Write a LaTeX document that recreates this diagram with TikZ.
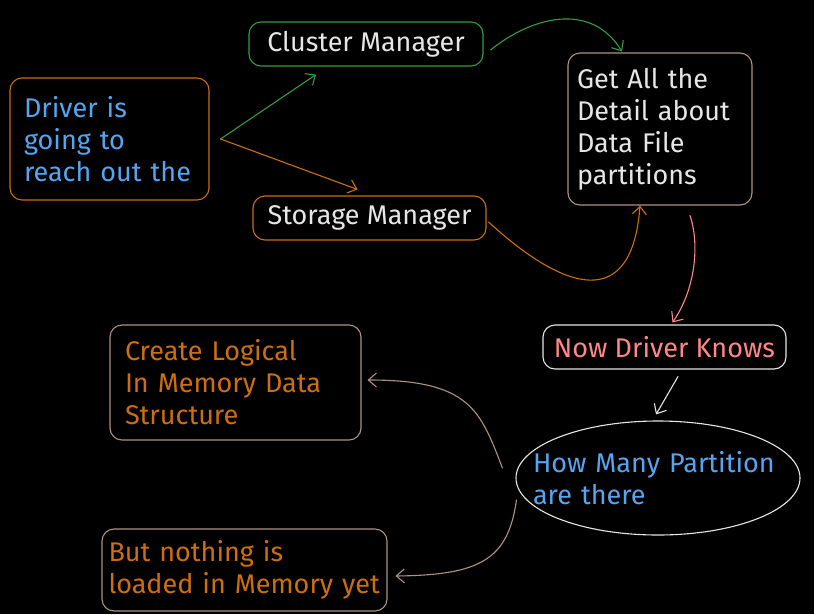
\documentclass[tikz,border=0pt]{standalone}
\usepackage{fontspec}
\setmainfont{Fira Sans}
\usetikzlibrary{arrows.meta,shapes.geometric}
\definecolor{grn}{RGB}{47,158,68}
\definecolor{orng}{RGB}{205,110,15}
\definecolor{brwn}{RGB}{176,145,135}
\definecolor{blu}{RGB}{85,165,240}
\definecolor{salm}{RGB}{255,135,135}
\definecolor{wht}{RGB}{230,230,230}
\begin{document}
\begin{tikzpicture}[x=1pt,y=-1pt,line cap=round,line join=round,>={Straight Barb[length=8pt,width=14pt]}]
\tikzset{box/.style={draw,rounded corners=12pt,line width=1.1pt,inner sep=0pt,font=\fontsize{27}{32}\selectfont},
link/.style={->,line width=1.1pt}
}
\useasboundingbox (0,0) rectangle (814,614);
\fill[black] (0,0) rectangle (814,614);
\node[box,draw=orng,text=blu,minimum width=199pt,minimum height=122pt,text width=171pt,align=left] (driver) at (109.5,139) {Driver is\\going to\\reach out the};
\node[box,draw=grn,text=wht,minimum width=234pt,minimum height=44pt] (cluster) at (366,44) {Cluster Manager};
\node[box,draw=orng,text=wht,minimum width=233pt,minimum height=44pt] (storage) at (369.5,218) {Storage Manager};
\node[box,draw=brwn,text=wht,minimum width=184pt,minimum height=152pt,text width=166pt,align=left] (detail) at (660,129) {Get All the\\Detail about\\Data File\\partitions};
\node[box,draw=wht,text=salm,minimum width=243pt,minimum height=44pt] (knows) at (664.5,347) {Now Driver Knows};
\node[box,ellipse,draw=wht,text=blu,minimum width=284pt,minimum height=114pt,text width=250pt,inner xsep=-25pt,align=left] (howmany) at (658,478) {How Many Partition\\are there};
\node[box,draw=brwn,text=orng,minimum width=251pt,minimum height=115pt,text width=221pt,align=left] (logical) at (235.5,382.5) {Create Logical\\In Memory Data\\Structure};
\node[box,draw=brwn,text=orng,minimum width=285pt,minimum height=82pt,text width=272pt,align=left] (notloaded) at (244.5,570) {But nothing is\\loaded in Memory yet};
\draw[link,grn] ([xshift=11pt]driver.east) -- ([shift={(-50,8)}]cluster.south);
\draw[link,orng] ([xshift=11pt]driver.east) -- ([shift={(-12,-6)}]storage.north);
\draw[link,grn] ([shift={(7,6)}]cluster.east) .. controls (530,18) and (590,0) .. ([shift={(-38,-1)}]detail.north);
\draw[link,orng] ([shift={(2,4)}]storage.east) .. controls (565,292) and (632,312) .. ([xshift=-20pt]detail.south);
\draw[link,salm] ([shift={(30,10)}]detail.south) .. controls (700,245) and (695,290) .. ([shift={(8,-2)}]knows.north);
\draw[link,wht] ([shift={(13.5,7)}]knows.south) -- ([shift={(-2,-6)}]howmany.north);
\draw[link,brwn] ([shift={(-13,-10)}]howmany.west) .. controls (480,410) and (470,380) .. ([shift={(6,-2.5)}]logical.east);
\draw[link,brwn] ([shift={(1,22)}]howmany.west) .. controls (508,560) and (480,575) .. ([shift={(8,6)}]notloaded.east);
\end{tikzpicture}
\end{document}
